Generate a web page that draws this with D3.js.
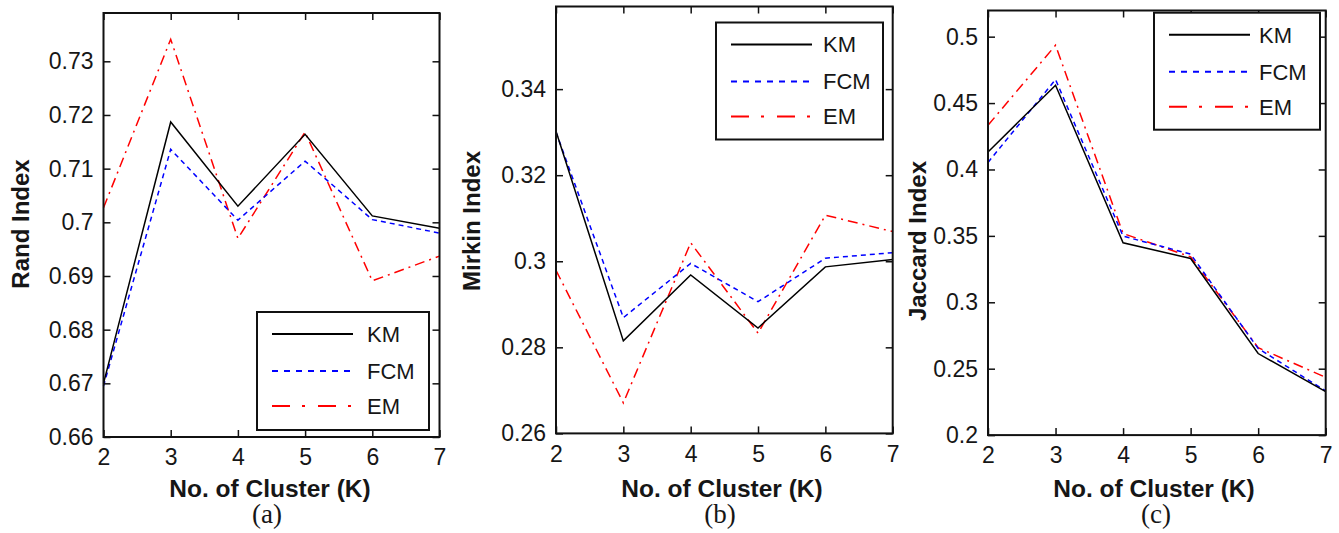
<!DOCTYPE html>
<html>
<head>
<meta charset="utf-8">
<script src="https://d3js.org/d3.v7.min.js"></script>
<style>
  body { margin: 0; background: #fff; }
  svg { display: block; }
  text { fill: #161616; }
</style>
</head>
<body>
<div id="chart"></div>
<script>
// Number of clusters on the x axis
var clusterK = [2, 3, 4, 5, 6, 7];
var methodNames = ["KM", "FCM", "EM"];

// (a) Rand index
var randKM  = [0.670, 0.7187, 0.7030, 0.7164, 0.7012, 0.6989];
var randFCM = [0.6695, 0.7136, 0.7004, 0.7114, 0.7005, 0.6980];
var randEM  = [0.7027, 0.7341, 0.6970, 0.7168, 0.6891, 0.6937];
var randTicks = [0.66, 0.67, 0.68, 0.69, 0.70, 0.71, 0.72, 0.73];

// (b) Mirkin index
var mirkinKM  = [0.3302, 0.2815, 0.2968, 0.2845, 0.2987, 0.3004];
var mirkinFCM = [0.3300, 0.2869, 0.2995, 0.2906, 0.3007, 0.3020];
var mirkinEM  = [0.2979, 0.2671, 0.3043, 0.2833, 0.3107, 0.3069];
var mirkinTicks = [0.26, 0.28, 0.30, 0.32, 0.34];

// (c) Jaccard index
var jaccardKM  = [0.4132, 0.4634, 0.3448, 0.3330, 0.2614, 0.2327];
var jaccardFCM = [0.4053, 0.4677, 0.3498, 0.3363, 0.2652, 0.2333];
var jaccardEM  = [0.4333, 0.4935, 0.3518, 0.3342, 0.2658, 0.2435];
var jaccardTicks = [0.2, 0.25, 0.3, 0.35, 0.4, 0.45, 0.5];

var width = 1339, height = 533;

var svg = d3.select("#chart")
            .append("svg")
            .attr("width", width)
            .attr("height", height);

// line look per method
var styles = {
  KM:  { color: "#000000", dash: null,          legendDash: null },
  FCM: { color: "#0000ff", dash: "5,4",         legendDash: "6,6" },
  EM:  { color: "#ff0000", dash: "10,5,2,5",    legendDash: "18,12,3,13" }
};

var panels = [
  { left: 103.5, right: 439.5, top: 13, bottom: 437,
    yDomain: [0.66, 0.739], ticks: randTicks,
    series: [randKM, randFCM, randEM],
    yLabel: "Rand Index", yLabelX: 28.5, yLabelY: 224,
    xLabelX: 270, caption: "(a)", captionX: 267,
    legend: { x: 257, y: 312, w: 172, h: 118, text: 110 } },
  { left: 556, right: 892.7, top: 6.5, bottom: 433.4,
    yDomain: [0.26, 0.3592], ticks: mirkinTicks,
    series: [mirkinKM, mirkinFCM, mirkinEM],
    yLabel: "Mirkin Index", yLabelX: 480, yLabelY: 221,
    xLabelX: 722, caption: "(b)", captionX: 720,
    legend: { x: 716, y: 22.5, w: 167, h: 117, text: 107 } },
  { left: 988, right: 1325.7, top: 10.5, bottom: 435.1,
    yDomain: [0.2, 0.5197], ticks: jaccardTicks,
    series: [jaccardKM, jaccardFCM, jaccardEM],
    yLabel: "Jaccard Index", yLabelX: 926, yLabelY: 241,
    xLabelX: 1154, caption: "(c)", captionX: 1156,
    legend: { x: 1154, y: 12.7, w: 166, h: 117, text: 105 } }
];

function fmt(d) {
  return String(+d.toFixed(2));
}

panels.forEach(function(p) {
  var g = svg.append("g");

  var xScale = d3.scaleLinear()
                 .domain([2, 7])
                 .range([p.left, p.right]);

  var yScale = d3.scaleLinear()
                 .domain(p.yDomain)
                 .range([p.bottom, p.top]);

  // data lines
  var line = d3.line()
               .x(function(d, i) { return xScale(clusterK[i]); })
               .y(function(d) { return yScale(d); });

  // draw EM first so KM sits on top
  [2, 1, 0].forEach(function(k) {
    var st = styles[methodNames[k]];
    g.append("path")
     .datum(p.series[k])
     .attr("d", line)
     .attr("fill", "none")
     .attr("stroke", st.color)
     .attr("stroke-width", 1.5)
     .attr("stroke-dasharray", st.dash);
  });

  // axes, ticks inside on all four sides
  var tickOpts = function(ax) {
    return ax.tickSizeInner(-7).tickSizeOuter(0).tickPadding(12);
  };

  var xBottom = g.append("g")
     .attr("transform", "translate(0," + p.bottom + ")")
     .call(tickOpts(d3.axisBottom(xScale).tickValues(clusterK).tickFormat(d3.format("d"))));
  var xTop = g.append("g")
     .attr("transform", "translate(0," + p.top + ")")
     .call(tickOpts(d3.axisTop(xScale).tickValues(clusterK)).tickFormat(""));
  var yLeft = g.append("g")
     .attr("transform", "translate(" + p.left + ",0)")
     .call(tickOpts(d3.axisLeft(yScale).tickValues(p.ticks).tickFormat(fmt)));
  var yRight = g.append("g")
     .attr("transform", "translate(" + p.right + ",0)")
     .call(tickOpts(d3.axisRight(yScale).tickValues(p.ticks)).tickFormat(""));

  [xBottom, xTop, yLeft, yRight].forEach(function(a) {
    a.select(".domain").remove();
    a.selectAll(".tick line").attr("stroke", "#111").attr("stroke-width", 1.5);
    a.selectAll("text")
     .attr("font-family", "'Liberation Sans', Arial, sans-serif")
     .attr("font-size", 23)
     .attr("fill", "#161616");
  });
  xBottom.selectAll("text").attr("dy", "0.71em").attr("y", 12);
  yLeft.selectAll("text").attr("x", -10);

  // frame
  g.append("rect")
   .attr("x", p.left)
   .attr("y", p.top)
   .attr("width", p.right - p.left)
   .attr("height", p.bottom - p.top)
   .attr("fill", "none")
   .attr("stroke", "#111")
   .attr("stroke-width", 2);

  // axis labels
  g.append("text")
   .attr("x", p.xLabelX)
   .attr("y", 496.5)
   .attr("text-anchor", "middle")
   .attr("font-family", "'Liberation Sans', Arial, sans-serif")
   .attr("font-weight", "bold")
   .attr("font-size", 24.5)
   .text("No. of Cluster (K)");

  g.append("text")
   .attr("transform", "translate(" + p.yLabelX + "," + p.yLabelY + ") rotate(-90)")
   .attr("text-anchor", "middle")
   .attr("font-family", "'Liberation Sans', Arial, sans-serif")
   .attr("font-weight", "bold")
   .attr("font-size", 24)
   .text(p.yLabel);

  g.append("text")
   .attr("x", p.captionX)
   .attr("y", 523)
   .attr("text-anchor", "middle")
   .attr("font-family", "'Liberation Serif', 'Times New Roman', serif")
   .attr("font-size", 27)
   .attr("fill", "#000")
   .text(p.caption);

  // legend
  var L = p.legend;
  var lg = g.append("g").attr("transform", "translate(" + L.x + "," + L.y + ")");
  lg.append("rect")
    .attr("width", L.w)
    .attr("height", L.h)
    .attr("fill", "#fff")
    .attr("stroke", "#111")
    .attr("stroke-width", 2);

  var rowY = [22, 59, 94];
  methodNames.forEach(function(name, i) {
    var st = styles[name];
    lg.append("line")
      .attr("x1", 15)
      .attr("x2", 96)
      .attr("y1", rowY[i])
      .attr("y2", rowY[i])
      .attr("stroke", st.color)
      .attr("stroke-width", 2)
      .attr("stroke-dasharray", st.legendDash);
    lg.append("text")
      .attr("x", L.text)
      .attr("y", rowY[i])
      .attr("dy", "0.36em")
      .attr("font-family", "'Liberation Sans', Arial, sans-serif")
      .attr("font-size", 22)
      .text(name);
  });
});
</script>
</body>
</html>
